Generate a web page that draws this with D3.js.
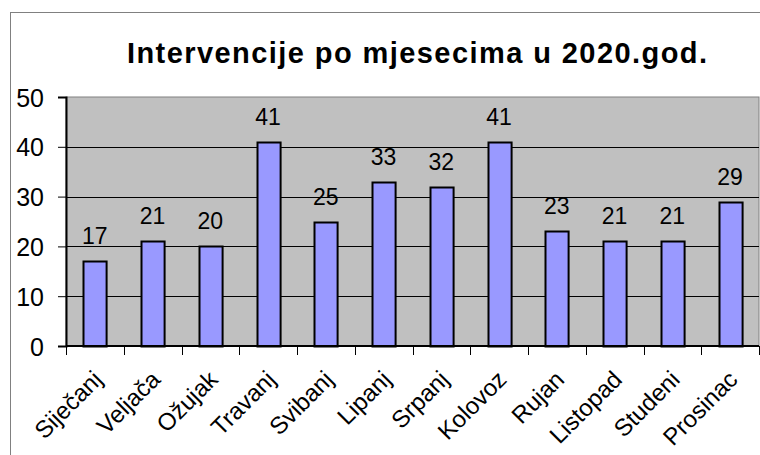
<!DOCTYPE html>
<html>
<head>
<meta charset="utf-8">
<script src="https://cdn.jsdelivr.net/npm/d3@7"></script>
<style>
  body { margin: 0; background: #fff; }
  text { font-family: Arial, "Liberation Sans", sans-serif; fill: #000; }
</style>
</head>
<body>
<div id="chart"></div>
<script>
//chart data
const months = ['Siječanj', 'Veljača', 'Ožujak', 'Travanj', 'Svibanj', 'Lipanj',
    'Srpanj', 'Kolovoz', 'Rujan', 'Listopad', 'Studeni', 'Prosinac'];
const interventions = [17, 21, 20, 41, 25, 33, 32, 41, 23, 21, 21, 29];
const yTicks = [0, 10, 20, 30, 40, 50];
const chartTitle = 'Intervencije po mjesecima u 2020.god.';

const width = 760, height = 455;
const margin = {top: 97, right: 1, bottom: 109, left: 66};

let svg = d3.select('#chart')
    .append('svg')
    .attr('width', width)
    .attr('height', height);

//outer chart border (cut off at right and bottom)
svg.append('rect')
    .attr('x', 10.5).attr('y', 12.5)
    .attr('width', 800).attr('height', 500)
    .attr('fill', '#fff')
    .attr('stroke', '#808080');

let x = d3.scaleBand()
    .domain(months)
    .range([margin.left, width - margin.right])
    .paddingInner(0.6)
    .paddingOuter(0.3);

let y = d3.scaleLinear()
    .domain([0, 50])
    .range([height - margin.bottom, margin.top]);

//plot area
svg.append('rect')
    .attr('x', margin.left).attr('y', margin.top)
    .attr('width', width - margin.right - margin.left)
    .attr('height', y(0) - margin.top)
    .attr('fill', '#c0c0c0')
    .attr('stroke', '#808080');

//gridlines
svg.append('g')
    .selectAll('line')
    .data(yTicks.filter(d => d > 0 && d < 50))
    .enter().append('line')
    .attr('x1', margin.left).attr('x2', width - margin.right)
    .attr('y1', d => Math.round(y(d)) + 0.5)
    .attr('y2', d => Math.round(y(d)) + 0.5)
    .attr('stroke', '#000');

//bars
svg.append('g')
    .selectAll('rect')
    .data(interventions)
    .enter().append('rect')
    .attr('x', (d, i) => Math.round(x(months[i])) + 0.5)
    .attr('y', d => Math.round(y(d)) + 0.5)
    .attr('width', x.bandwidth())
    .attr('height', d => y(0) - Math.round(y(d)))
    .attr('fill', '#9999ff')
    .attr('stroke', '#000')
    .attr('stroke-width', 2);

//value labels
svg.append('g')
    .selectAll('text')
    .data(interventions)
    .enter().append('text')
    .attr('x', (d, i) => x(months[i]) + x.bandwidth() / 2)
    .attr('y', d => y(d) - 17)
    .attr('text-anchor', 'middle')
    .style('font-size', '23px')
    .text(d => d);

//y axis
let yAxis = svg.append('g')
    .attr('transform', `translate(${margin.left},0)`)
    .call(d3.axisLeft(y).tickValues(yTicks).tickSize(8).tickPadding(14));
yAxis.select('.domain').attr('stroke', '#000').attr('stroke-width', 2);
yAxis.selectAll('.tick line').attr('stroke', '#000');
yAxis.selectAll('.tick text')
    .style('font-size', '25px')
    .attr('dy', '0.36em')
    .attr('fill', '#000');

//x axis, ticks sit on band edges
let xAxis = svg.append('g')
    .attr('transform', `translate(0,${y(0)})`);
xAxis.append('line')
    .attr('x1', margin.left).attr('x2', width - margin.right)
    .attr('stroke', '#000').attr('stroke-width', 2);
let step = x.step();
xAxis.selectAll('line.tick')
    .data(d3.range(months.length + 1))
    .enter().append('line')
    .attr('class', 'tick')
    .attr('x1', i => Math.round(margin.left + i * step) + 0.5)
    .attr('x2', i => Math.round(margin.left + i * step) + 0.5)
    .attr('y1', 0).attr('y2', 9)
    .attr('stroke', '#000');
xAxis.selectAll('text')
    .data(months)
    .enter().append('text')
    .attr('transform', d => `translate(${x(d) + x.bandwidth() / 2 + 3},${29}) rotate(-45)`)
    .attr('text-anchor', 'end')
    .attr('dy', '0.35em')
    .style('font-size', '24px')
    .text(d => d);

//title
svg.append('text')
    .attr('x', 417)
    .attr('y', 63)
    .attr('text-anchor', 'middle')
    .attr('textLength', 580)
    .attr('lengthAdjust', 'spacing')
    .style('font-size', '29px')
    .style('font-weight', 'bold')
    .text(chartTitle);
</script>
</body>
</html>
